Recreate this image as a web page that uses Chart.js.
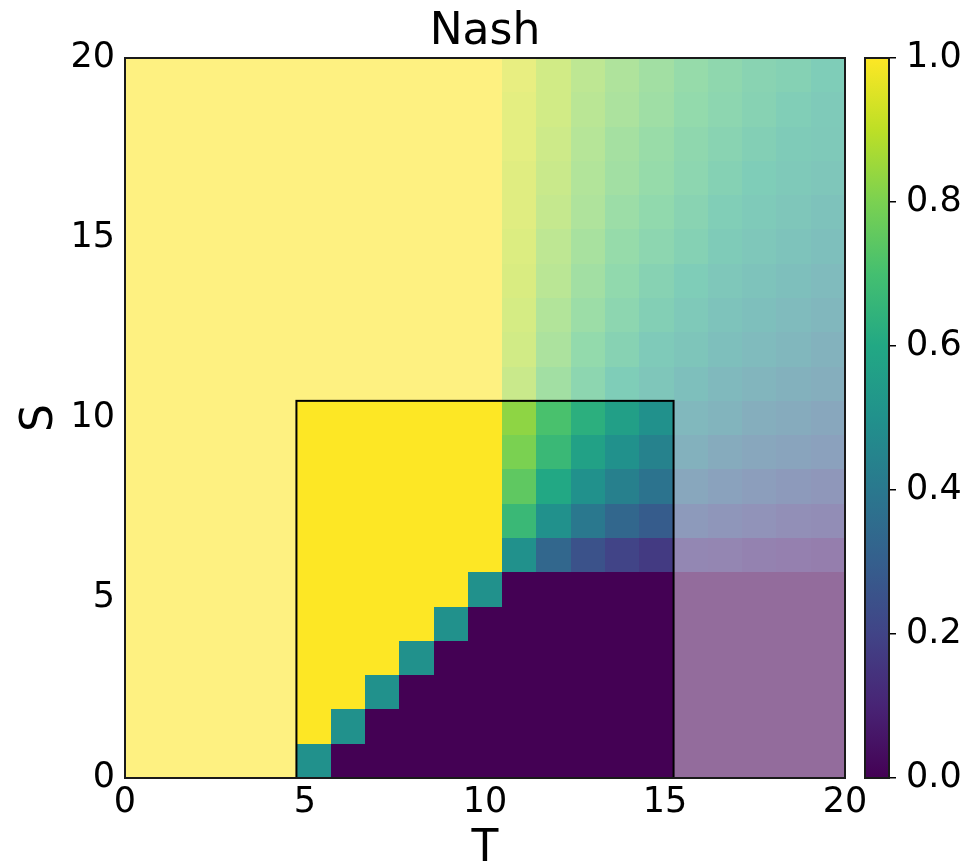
<!DOCTYPE html>
<html><head><meta charset="utf-8">
<script src="https://cdn.jsdelivr.net/npm/chart.js@4.4.1/dist/chart.umd.min.js"></script>
<style>
html,body{margin:0;padding:0;background:#fff;}
#wrap{position:relative;width:970px;height:865px;}
#wrap canvas{position:absolute;left:0;top:0;}
</style>
</head><body>
<div id="wrap"><canvas id="main" width="970" height="865"></canvas><canvas id="cbar" width="970" height="865"></canvas></div>
<script>
// ---- data ----
const T_VALUES = [0,1,2,3,4,5,6,7,8,9,10,11,12,13,14,15,16,17,18,19,20];
const S_VALUES = [0,1,2,3,4,5,6,7,8,9,10,11,12,13,14,15,16,17,18,19,20];
const X_TICKS = [0,5,10,15,20];
const Y_TICKS = [0,5,10,15,20];
const CBAR_TICKS = [0,0.2,0.4,0.6,0.8,1.0];
const HIGHLIGHT_T = [5,15];   // highlighted block (cell indices)
const HIGHLIGHT_S = [0,10];

const nashS0  = [1,1,1,1,1,0.5,0,0,0,0,0,0,0,0,0,0,0,0,0,0,0];
const nashS1  = [1,1,1,1,1,1,0.5,0,0,0,0,0,0,0,0,0,0,0,0,0,0];
const nashS2  = [1,1,1,1,1,1,1,0.5,0,0,0,0,0,0,0,0,0,0,0,0,0];
const nashS3  = [1,1,1,1,1,1,1,1,0.5,0,0,0,0,0,0,0,0,0,0,0,0];
const nashS4  = [1,1,1,1,1,1,1,1,1,0.5,0,0,0,0,0,0,0,0,0,0,0];
const nashS5  = [1,1,1,1,1,1,1,1,1,1,0.5,0,0,0,0,0,0,0,0,0,0];
const nashS6  = [1,1,1,1,1,1,1,1,1,1,1,0.50,0.33,0.25,0.20,0.17,0.14,0.13,0.11,0.10,0.09];
const nashS7  = [1,1,1,1,1,1,1,1,1,1,1,0.67,0.50,0.40,0.33,0.29,0.25,0.22,0.20,0.18,0.17];
const nashS8  = [1,1,1,1,1,1,1,1,1,1,1,0.75,0.60,0.50,0.43,0.38,0.33,0.30,0.27,0.25,0.23];
const nashS9  = [1,1,1,1,1,1,1,1,1,1,1,0.80,0.67,0.57,0.50,0.44,0.40,0.36,0.33,0.31,0.29];
const nashS10 = [1,1,1,1,1,1,1,1,1,1,1,0.83,0.71,0.63,0.56,0.50,0.45,0.42,0.38,0.36,0.33];
const nashS11 = [1,1,1,1,1,1,1,1,1,1,1,0.86,0.75,0.67,0.60,0.55,0.50,0.46,0.43,0.40,0.38];
const nashS12 = [1,1,1,1,1,1,1,1,1,1,1,0.88,0.78,0.70,0.64,0.58,0.54,0.50,0.47,0.44,0.41];
const nashS13 = [1,1,1,1,1,1,1,1,1,1,1,0.89,0.80,0.73,0.67,0.62,0.57,0.53,0.50,0.47,0.44];
const nashS14 = [1,1,1,1,1,1,1,1,1,1,1,0.90,0.82,0.75,0.69,0.64,0.60,0.56,0.53,0.50,0.47];
const nashS15 = [1,1,1,1,1,1,1,1,1,1,1,0.91,0.83,0.77,0.71,0.67,0.63,0.59,0.56,0.53,0.50];
const nashS16 = [1,1,1,1,1,1,1,1,1,1,1,0.92,0.85,0.79,0.73,0.69,0.65,0.61,0.58,0.55,0.52];
const nashS17 = [1,1,1,1,1,1,1,1,1,1,1,0.92,0.86,0.80,0.75,0.71,0.67,0.63,0.60,0.57,0.55];
const nashS18 = [1,1,1,1,1,1,1,1,1,1,1,0.93,0.87,0.81,0.76,0.72,0.68,0.65,0.62,0.59,0.57];
const nashS19 = [1,1,1,1,1,1,1,1,1,1,1,0.93,0.88,0.82,0.78,0.74,0.70,0.67,0.64,0.61,0.58];
const nashS20 = [1,1,1,1,1,1,1,1,1,1,1,0.94,0.88,0.83,0.79,0.75,0.71,0.68,0.65,0.63,0.60];
const NASH = [nashS0,nashS1,nashS2,nashS3,nashS4,nashS5,nashS6,nashS7,nashS8,nashS9,nashS10,
              nashS11,nashS12,nashS13,nashS14,nashS15,nashS16,nashS17,nashS18,nashS19,nashS20];

// ---- style ----
const VIRIDIS = ['#440154','#482475','#414487','#355f8d','#2a788e','#21918c','#22a884','#44bf70','#7ad151','#bddf26','#fde725'];
const FADE_ALPHA = 0.58;
const FONT = 'DejaVu Sans';
Chart.defaults.font.family = FONT;
Chart.defaults.color = '#000';

function hexRgb(h){return [parseInt(h.slice(1,3),16),parseInt(h.slice(3,5),16),parseInt(h.slice(5,7),16)];}
const VIR_RGB = VIRIDIS.map(hexRgb);
function viridis(v){
  v = Math.max(0, Math.min(1, v));
  const f = v*(VIR_RGB.length-1), i = Math.min(Math.floor(f), VIR_RGB.length-2), t = f - i;
  return VIR_RGB[i].map((c,k)=>c + (VIR_RGB[i+1][k]-c)*t);
}
function cellColor(v, faded){
  let c = viridis(v);
  if (faded) c = c.map(x => 255 - FADE_ALPHA*(255 - x));
  return 'rgb(' + c.map(Math.round).join(',') + ')';
}

const X_MIN = X_TICKS[0], X_MAX = X_TICKS[X_TICKS.length-1];
const Y_MIN = Y_TICKS[0], Y_MAX = Y_TICKS[Y_TICKS.length-1];
const CW = (X_MAX - X_MIN) / T_VALUES.length;
const CH = (Y_MAX - Y_MIN) / S_VALUES.length;

const cells = [];
S_VALUES.forEach((s, j) => {
  T_VALUES.forEach((t, i) => {
    const inside = i >= HIGHLIGHT_T[0] && i <= HIGHLIGHT_T[1] && j >= HIGHLIGHT_S[0] && j <= HIGHLIGHT_S[1];
    cells.push({x: X_MIN + (i+0.5)*CW, y: Y_MIN + (j+0.5)*CH, v: NASH[j][i], T: t, S: s, color: cellColor(NASH[j][i], !inside)});
  });
});

const heatmapPlugin = {
  id: 'heatmap',
  beforeDatasetsDraw(chart){
    const {ctx, scales:{x:xs, y:ys}} = chart;
    ctx.save();
    for (const p of chart.data.datasets[0].data){
      const x0 = Math.round(xs.getPixelForValue(p.x - CW/2)), x1 = Math.round(xs.getPixelForValue(p.x + CW/2));
      const y0 = Math.round(ys.getPixelForValue(p.y + CH/2)), y1 = Math.round(ys.getPixelForValue(p.y - CH/2));
      ctx.fillStyle = p.color;
      ctx.fillRect(x0, y0, x1-x0, y1-y0);
    }
    ctx.restore();
  },
  afterDatasetsDraw(chart){
    const {ctx, chartArea:a, scales:{x:xs, y:ys}} = chart;
    ctx.save();
    const bx0 = xs.getPixelForValue(X_MIN + HIGHLIGHT_T[0]*CW), bx1 = xs.getPixelForValue(X_MIN + (HIGHLIGHT_T[1]+1)*CW);
    const by0 = ys.getPixelForValue(Y_MIN + (HIGHLIGHT_S[1]+1)*CH), by1 = ys.getPixelForValue(Y_MIN + HIGHLIGHT_S[0]*CH);
    ctx.strokeStyle = '#000'; ctx.lineWidth = 2;
    ctx.strokeRect(bx0, by0, bx1-bx0, by1-by0);
    ctx.strokeStyle = '#1a1a1a'; ctx.lineWidth = 2;
    ctx.strokeRect(a.left, a.top, a.right-a.left, a.bottom-a.top);
    ctx.restore();
  }
};

new Chart(document.getElementById('main'), {
  type: 'scatter',
  data: {datasets: [{data: cells, pointRadius: 0, pointHoverRadius: 0}]},
  options: {
    responsive: false, animation: false, events: [],
    layout: {padding: {left: 0, right: 125, top: 0, bottom: 0}},
    plugins: {
      legend: {display: false}, tooltip: {enabled: false},
      title: {display: true, fullSize: false, text: 'Nash', color: '#000', font: {family: FONT, size: 44, weight: 'normal', lineHeight: 1.2}, padding: {top: 6, bottom: 58 - 6 - 52.8}}
    },
    scales: {
      x: {type: 'linear', min: X_MIN, max: X_MAX, position: 'bottom',
          grid: {display: false, drawTicks: false}, border: {display: false},
          afterBuildTicks: s => { s.ticks = X_TICKS.map(v => ({value: v})); },
          ticks: {color: '#000', font: {size: 35}, padding: 4, maxRotation: 0, autoSkip: false},
          title: {display: true, text: 'T', color: '#000', font: {size: 44, lineHeight: 0.8}, padding: {top: 0, bottom: -2}},
          afterFit: s => { s.height = 87; }},
      y: {type: 'linear', min: Y_MIN, max: Y_MAX, position: 'left',
          grid: {display: false, drawTicks: false}, border: {display: false},
          afterBuildTicks: s => { s.ticks = Y_TICKS.map(v => ({value: v})); },
          ticks: {color: '#000', font: {size: 35}, padding: 10, autoSkip: false},
          title: {display: true, text: 'S', color: '#000', font: {size: 44, lineHeight: 1.2}, padding: {top: 14, bottom: 0}},
          afterFit: s => { s.width = 125; }}
    }
  },
  plugins: [heatmapPlugin]
});

const cbarPlugin = {
  id: 'cbarFill',
  beforeDatasetsDraw(chart){
    const {ctx, chartArea:a, scales:{y:ys}} = chart;
    const g = ctx.createLinearGradient(0, ys.getPixelForValue(0), 0, ys.getPixelForValue(1));
    VIRIDIS.forEach((c, k) => g.addColorStop(k/(VIRIDIS.length-1), c));
    ctx.save();
    ctx.fillStyle = g;
    ctx.fillRect(a.left, a.top, a.right-a.left, a.bottom-a.top);
    ctx.strokeStyle = '#1a1a1a'; ctx.lineWidth = 2;
    ctx.strokeRect(a.left, a.top, a.right-a.left, a.bottom-a.top);
    ctx.restore();
  }
};

new Chart(document.getElementById('cbar'), {
  type: 'scatter',
  data: {datasets: [{data: [], pointRadius: 0}]},
  options: {
    responsive: false, animation: false, events: [],
    layout: {padding: {left: 865, right: 0, top: 58, bottom: 87}},
    plugins: {legend: {display: false}, tooltip: {enabled: false}},
    scales: {
      x: {display: false, min: 0, max: 1},
      y: {type: 'linear', position: 'right', min: 0, max: 1,
          afterBuildTicks: s => { s.ticks = CBAR_TICKS.map(v => ({value: v})); },
          grid: {display: true, drawOnChartArea: false, drawTicks: true, tickLength: 7, tickColor: '#000', lineWidth: 1.5},
          border: {display: false},
          ticks: {color: '#000', font: {size: 35}, padding: 10, autoSkip: false, callback: v => v.toFixed(1)},
          afterFit: s => { s.width = 970 - 889; }}
    }
  },
  plugins: [cbarPlugin]
});
</script>
</body></html>
